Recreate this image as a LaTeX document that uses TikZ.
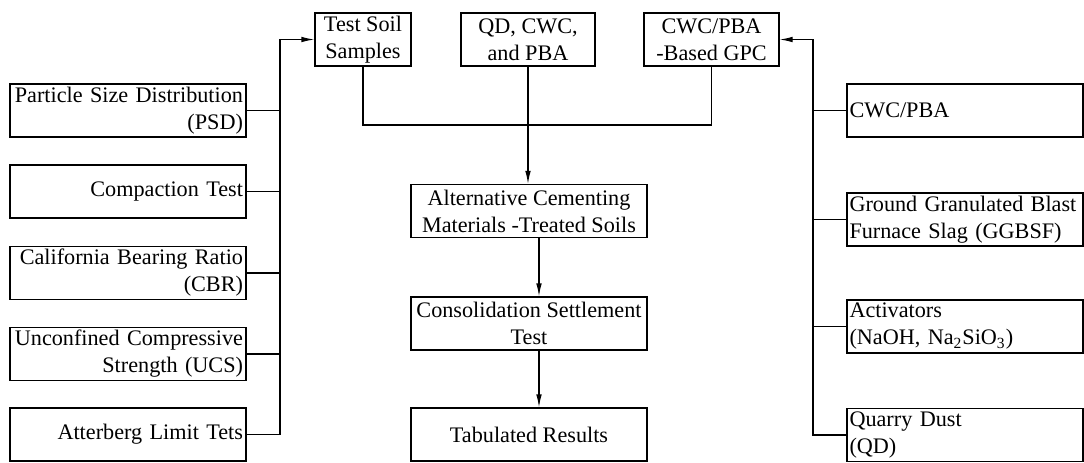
\documentclass[tikz,border=0pt]{standalone}
\usepackage{fontspec}
\setmainfont{Liberation Serif}
\usetikzlibrary{arrows.meta, calc}

\begin{document}
\begin{tikzpicture}[
    x=0.5pt, y=-0.5pt,
    >={Latex[length=6.5pt, width=2.8pt]},
    line width=0.6pt,
    font=\fontsize{11.1}{13.5}\selectfont,
    box/.style={rectangle, draw, minimum height=26.5pt, inner ysep=0pt},
    lbox/.style={box, minimum width=118pt, text width=115pt, inner xsep=1.5pt, align=right},
    rbox/.style={box, minimum width=118pt, text width=115.5pt, inner xsep=1.25pt, align=left},
    cbox/.style={box, inner xsep=2pt, align=center},
  ]
  \useasboundingbox (0,0) rectangle (1084,462);

  %% --- Top row ---
  \node[cbox, minimum width=48pt] (TSS) at (363,39.5) {Test Soil\\Samples};
  \node[cbox, minimum width=67pt] (QCP) at (528,39.5) {QD, CWC,\\and PBA};
  \node[cbox, minimum width=67.5pt] (GPC) at (711.5,39.5) {CWC/PBA\\-Based GPC};

  %% --- Middle column ---
  \node[cbox, minimum width=118pt] (ACM) at (529,211) {Alternative Cementing\\Materials -Treated Soils};
  \node[cbox, minimum width=118pt] (CST) at (529,323.5) {Consolidation Settlement\\Test};
  \node[cbox, minimum width=118pt] (TR) at (529,434.5) {Tabulated Results};

  %% --- Left column: soil tests ---
  \node[lbox] (PSD) at (128,110.5) {Particle Size Distribution\\(PSD)};
  \node[lbox] (CT) at (128,191.5) {Compaction Test};
  \node[lbox] (CBR) at (128,273) {California Bearing Ratio\\(CBR)};
  \node[lbox] (UCS) at (128,354) {Unconfined Compressive\\Strength (UCS)};
  \node[lbox] (ALT) at (128,434.5) {Atterberg Limit Tets};

  %% --- Right column: GPC ingredients ---
  \node[rbox] (CP) at (965,110.5) {CWC/PBA};
  \node[rbox] (GGBSF) at (965,219.5) {\mbox{Ground Granulated Blast}\\Furnace Slag (GGBSF)};
  \node[rbox] (ACT) at (965,326.5) {Activators\\(NaOH, Na\textsubscript{2}SiO\textsubscript{3})};
  \node[rbox] (QDU) at (965,435) {Quarry Dust\\(QD)};

  %% --- Bus points ---
  \coordinate (lbus) at (280,39.5);
  \coordinate (rbus) at (813,39.5);
  \coordinate (jn) at (528,125);

  % left tests feed the soil samples
  \foreach \n in {PSD, CT, CBR, UCS}
    \draw (\n.east) -- (\n.east -| lbus);
  \draw[->] (ALT.east) -| (lbus) -- (TSS.west);

  % ingredients feed the GPC
  \foreach \n in {CP, GGBSF, ACT}
    \draw (\n.west) -- (\n.west -| rbus);
  \draw[->] (QDU.west) -| (rbus) -- (GPC.east);

  % samples and GPC joined, then down the middle
  \draw (TSS.south) |- (jn) -| (GPC.south);
  \draw[->] (QCP.south) -- (QCP.south |- ACM.north);
  \draw[->] ([xshift=5pt]ACM.south) -- ([xshift=5pt]CST.north);
  \draw[->] ([xshift=5pt]CST.south) -- ([xshift=5pt]TR.north);
\end{tikzpicture}
\end{document}
